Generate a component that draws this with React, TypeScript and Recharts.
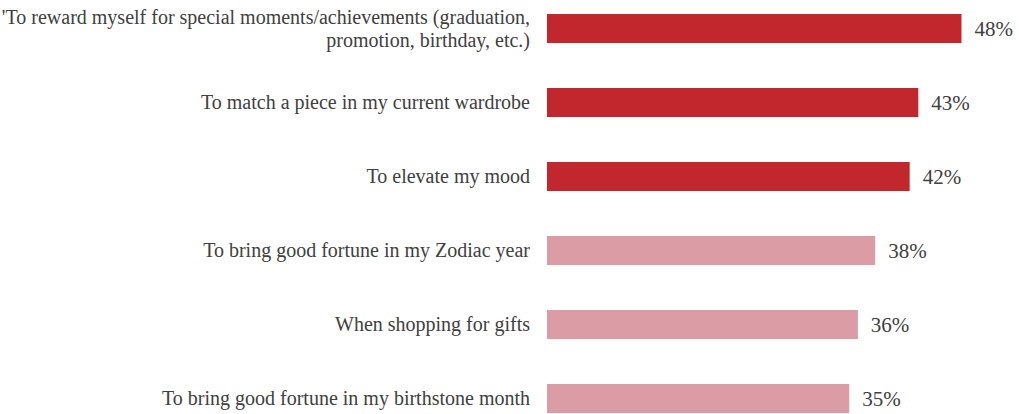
import { BarChart, Bar, XAxis, YAxis, Cell, LabelList } from 'recharts'

const reasons = [
  "'To reward myself  for special moments/achievements (graduation,|promotion, birthday, etc.)",
  'To match a piece in my current wardrobe',
  'To elevate my mood',
  'To bring good fortune in my Zodiac year',
  'When shopping for gifts',
  'To bring good fortune in my birthstone month',
]
const shares = [48, 43, 42, 38, 36, 35]
const tiers = ['top', 'top', 'top', 'other', 'other', 'other']

const COLORS: Record<string, string> = { top: '#C1272D', other: '#DB9CA5' }
const FONT = '"Liberation Serif", "DejaVu Serif", serif'

const data = reasons.map((name, i) => ({ name, value: shares[i], tier: tiers[i] }))

function ReasonTick({ x, y, payload }: any) {
  const lines = String(payload.value).split('|')
  const lh = 23
  const start = -((lines.length - 1) * lh) / 2
  return (
    <text x={x} y={y} textAnchor="end" fill="#404040" fontSize={20} fontFamily={FONT}>
      {lines.map((l, i) => (
        <tspan key={i} x={x} dy={i === 0 ? start + 7 : lh}>
          {l}
        </tspan>
      ))}
    </text>
  )
}

export default function App() {
  return (
    <div
      style={{
        position: 'fixed',
        left: 0,
        top: 0,
        width: 1019,
        height: 414,
        overflow: 'hidden',
        background: '#fff',
      }}
    >
      <div style={{ marginTop: -9 }}>
        <BarChart
          width={1019}
          height={444}
          data={data}
          layout="vertical"
          margin={{ top: 0, right: 0, bottom: 0, left: 0 }}
          barSize={29}
        >
          <XAxis type="number" domain={[0, 54.66]} hide />
          <YAxis
            type="category"
            dataKey="name"
            width={547}
            axisLine={false}
            tickLine={false}
            tickMargin={11}
            tick={<ReasonTick />}
            interval={0}
          />
          <Bar dataKey="value" isAnimationActive={false}>
            {data.map((d, i) => (
              <Cell key={i} fill={COLORS[d.tier]} />
            ))}
            <LabelList
              dataKey="value"
              position="right"
              offset={13}
              formatter={(v: any) => `${v}%`}
              style={{ fill: '#404040', fontSize: 21, fontFamily: FONT }}
            />
          </Bar>
        </BarChart>
      </div>
    </div>
  )
}
